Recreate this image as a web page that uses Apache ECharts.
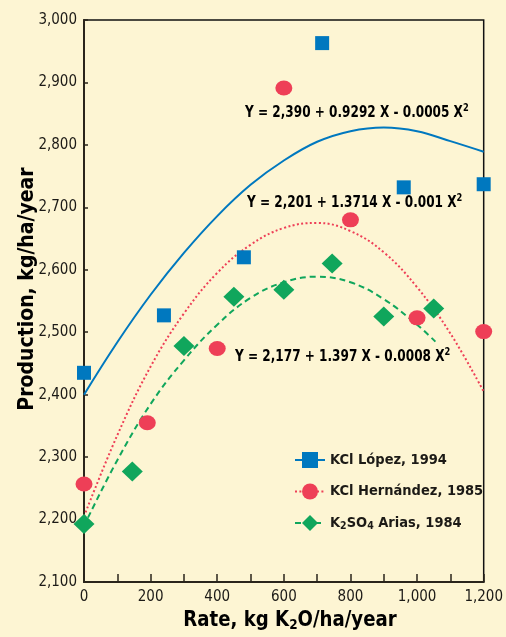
<!DOCTYPE html>
<html>
<head>
<meta charset="utf-8">
<script src="https://cdn.jsdelivr.net/npm/echarts@6/dist/echarts.min.js"></script>
<style>
html,body{margin:0;padding:0;background:#FDF5D3;}
#c{width:506px;height:637px;}
</style>
</head>
<body>
<div id="c"></div>
<script>
// ---- data ----
const lopezX = [0, 240, 480, 715, 960, 1200];
const lopezY = [2435, 2527, 2620, 2963, 2732, 2737];
const hernX = [0, 190, 400, 600, 800, 1000, 1200];
const hernY = [2257, 2355, 2474, 2891, 2680, 2523, 2501];
const ariasX = [0, 145, 300, 450, 600, 745, 900, 1050];
const ariasY = [2193, 2277, 2478, 2557, 2568, 2610, 2525, 2538];

const fitX = [0, 100, 200, 300, 400, 500, 600, 700, 800, 900, 1000, 1100, 1200];
const lopezFit = [2400, 2484, 2560, 2627, 2686, 2736, 2775, 2805, 2822, 2828, 2822, 2806, 2789];
const hernFit = [2205, 2335, 2445, 2530, 2595, 2640, 2667, 2675, 2662, 2628, 2572, 2498, 2405];
const ariasFitX = [12, 100, 200, 300, 400, 500, 600, 700, 800, 900, 1000, 1055];
const ariasFit = [2203, 2295, 2385, 2455, 2512, 2555, 2580, 2589, 2580, 2553, 2512, 2485];

const xTicks = [0, 200, 400, 600, 800, 1000, 1200];
const seriesNames = ['KCl López, 1994', 'KCl Hernández, 1985', 'K2SO4 Arias, 1984'];

const FONT = '"Liberation Sans Narrow", "DejaVu Sans Condensed", "Roboto", sans-serif';
const BLUE = '#0078BF', RED = '#EE3F57', GREEN = '#10A65C';
const INK = '#1c1a16';

const zip = (xs, ys) => xs.map((x, i) => [x, ys[i]]);
const fmt = v => v.toLocaleString('en-US');

const eqRich = {
  a: {fontFamily: FONT, fontSize: 16, fontWeight: 'bold', color: INK, lineHeight: 22},
  sup: {fontFamily: FONT, fontSize: 11, fontWeight: 'bold', color: INK, padding: [0, 0, 10, 0]}
};
const titleRich = {
  a: {fontFamily: FONT, fontSize: 21, fontWeight: 'bold', color: INK, lineHeight: 26},
  sub: {fontFamily: FONT, fontSize: 14, fontWeight: 'bold', color: INK, padding: [9, 0, 0, 0]}
};
const legRich = {
  a: {fontFamily: FONT, fontSize: 14.5, fontWeight: 'bold', color: INK, lineHeight: 20},
  sub: {fontFamily: FONT, fontSize: 10.5, fontWeight: 'bold', color: INK, padding: [7, 0, 0, 0]}
};

const chart = echarts.init(document.getElementById('c'), null, {renderer: 'canvas'});
chart.setOption({
  backgroundColor: '#FDF5D3',
  animation: false,
  grid: {left: 84, right: 19, top: 20, bottom: 55, show: true, borderColor: '#111', borderWidth: 1.5, backgroundColor: 'transparent'},
  xAxis: {
    type: 'value', min: 0, max: 1200, interval: 100,
    axisLine: {show: true, onZero: false, lineStyle: {color: '#2a251b', width: 2}},
    axisTick: {show: true, inside: true, length: 8, lineStyle: {color: '#2a251b', width: 1.5}},
    axisLabel: {
      margin: 8, fontFamily: FONT, fontSize: 15, color: INK,
      formatter: v => xTicks.indexOf(v) >= 0 ? fmt(v) : ''
    },
    splitLine: {show: false}
  },
  yAxis: {
    type: 'value', min: 2100, max: 3000, interval: 100,
    axisLine: {show: true, onZero: false, lineStyle: {color: '#2a251b', width: 2}},
    axisTick: {show: true, inside: true, length: 4, lineStyle: {color: '#2a251b', width: 1.5}},
    axisLabel: {margin: 7, fontFamily: FONT, fontSize: 15, color: INK, formatter: v => fmt(v)},
    splitLine: {show: false}
  },
  legend: {
    orient: 'vertical', left: 294, top: 452, padding: 0, itemWidth: 30, itemHeight: 20, itemGap: 15.5,
    data: seriesNames,
    textStyle: {rich: legRich},
    formatter: n => n === seriesNames[2] ? '{a|K}{sub|2}{a|SO}{sub|4}{a| Arias, 1984}' : '{a|' + n + '}'
  },
  series: [
    {name: seriesNames[0], type: 'line', data: zip(fitX, lopezFit), smooth: 0.4, showSymbol: false, symbol: 'rect',
      lineStyle: {color: BLUE, width: 2}, itemStyle: {color: BLUE}, z: 2},
    {name: seriesNames[1], type: 'line', data: zip(fitX, hernFit), smooth: 0.4, showSymbol: false, symbol: 'circle',
      lineStyle: {color: RED, width: 2, type: [2, 2.4]}, itemStyle: {color: RED}, z: 2},
    {name: seriesNames[2], type: 'line', data: zip(ariasFitX, ariasFit), smooth: 0.4, showSymbol: false, symbol: 'diamond',
      lineStyle: {color: GREEN, width: 2, type: [6, 4]}, itemStyle: {color: GREEN}, z: 2},
    {name: 'López points', type: 'scatter', data: zip(lopezX, lopezY), symbol: 'rect', symbolSize: 14,
      itemStyle: {color: BLUE, opacity: 1}, z: 5, clip: false},
    {name: 'Hernández points', type: 'scatter', data: zip(hernX, hernY), symbol: 'circle', symbolSize: [17, 15],
      itemStyle: {color: RED, opacity: 1}, z: 5, clip: false},
    {name: 'Arias points', type: 'scatter', data: zip(ariasX, ariasY), symbol: 'diamond', symbolSize: [21, 20],
      itemStyle: {color: GREEN, opacity: 1}, z: 5, clip: false}
  ],
  graphic: [
    {type: 'text', x: 245, y: 113, scaleX: 0.84, z: 10, style: {text: '{a|Y = 2,390 + 0.9292 X - 0.0005 X}{sup|2}', rich: eqRich, align: 'left', verticalAlign: 'middle'}},
    {type: 'text', x: 247, y: 203, scaleX: 0.84, z: 10, style: {text: '{a|Y = 2,201 + 1.3714 X - 0.001 X}{sup|2}', rich: eqRich, align: 'left', verticalAlign: 'middle'}},
    {type: 'text', x: 235, y: 357, scaleX: 0.84, z: 10, style: {text: '{a|Y = 2,177 + 1.397 X - 0.0008 X}{sup|2}', rich: eqRich, align: 'left', verticalAlign: 'middle'}},
    {type: 'text', x: 28, y: 289, rotation: Math.PI / 2, z: 10, style: {text: '{a|Production, kg/ha/year}', rich: titleRich, align: 'center', verticalAlign: 'middle'}},
    {type: 'text', x: 290, y: 621, scaleX: 0.96, z: 10, style: {text: '{a|Rate, kg K}{sub|2}{a|O/ha/year}', rich: titleRich, align: 'center', verticalAlign: 'middle'}}
  ]
});
</script>
</body>
</html>
